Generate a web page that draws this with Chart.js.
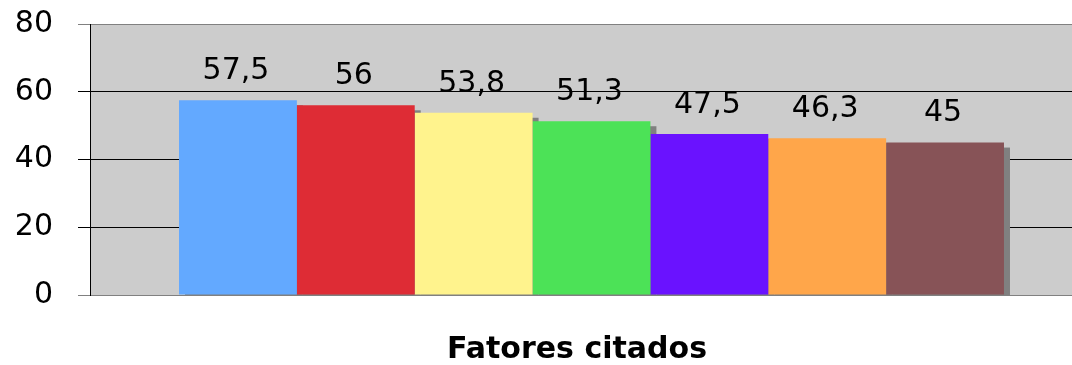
<!DOCTYPE html>
<html>
<head>
<meta charset="utf-8">
<script src="https://cdn.jsdelivr.net/npm/chart.js@4"></script>
<style>
  html, body { margin: 0; padding: 0; background: #fff; overflow: hidden; }
  #wrap { width: 1150px; height: 365px; }
</style>
</head>
<body>
<div id="wrap"><canvas id="barChart" width="1150" height="365"></canvas></div>
<script>
// dados
const chartTitle = 'Fatores citados';
const categories = ['Fatores citados'];
const seriesNames = ['F1', 'F2', 'F3', 'F4', 'F5', 'F6', 'F7'];
const seriesValues = [57.5, 56, 53.8, 51.3, 47.5, 46.3, 45];
const seriesColors = ['#63a9ff', '#de2c35', '#fff38d', '#4ce257', '#6a12ff', '#ffa64a', '#875357'];
const yTicks = [0, 20, 40, 60, 80];

const FONT = 'DejaVu Sans, Verdana, sans-serif';

// fundo cinza da área do gráfico + sombras das barras
const plotBg = {
    id: 'plotBg',
    beforeDatasetsDraw(chart) {
        const { ctx, chartArea: a } = chart;
        ctx.save();
        ctx.beginPath();
        ctx.rect(a.left, a.top, a.right - a.left, a.bottom - a.top);
        ctx.clip();
        ctx.fillStyle = '#808080';
        chart.data.datasets.forEach((ds, i) => {
            const bar = chart.getDatasetMeta(i).data[0];
            if (!bar) return;
            const w = bar.width;
            ctx.fillRect(bar.x - w / 2 + 6, bar.y + 5, w, bar.base - bar.y);
        });
        ctx.restore();
    },
    beforeDraw(chart) {
        const { ctx, chartArea: a } = chart;
        ctx.save();
        ctx.fillStyle = '#cccccc';
        ctx.fillRect(a.left, a.top, a.right - a.left, a.bottom - a.top);
        ctx.restore();
    }
};

// rótulos de valores acima das barras + título do eixo
const valueLabels = {
    id: 'valueLabels',
    afterDatasetsDraw(chart) {
        const ctx = chart.ctx;
        ctx.save();
        ctx.font = '30px ' + FONT;
        ctx.fillStyle = '#000';
        ctx.textAlign = 'center';
        ctx.textBaseline = 'middle';
        chart.data.datasets.forEach((ds, i) => {
            const bar = chart.getDatasetMeta(i).data[0];
            if (!bar) return;
            const txt = String(ds.data[0]).replace('.', ',');
            ctx.fillText(txt, bar.x - 2, bar.y - 29);
        });
        ctx.restore();
    },
    afterDraw(chart) {
        const ctx = chart.ctx;
        ctx.save();
        ctx.font = 'bold 30px ' + FONT;
        ctx.fillStyle = '#000';
        ctx.textAlign = 'center';
        ctx.textBaseline = 'middle';
        ctx.fillText(chartTitle, chart.width / 2 + 2, chart.chartArea.bottom + 55);
        ctx.restore();
    }
};

const lineColor = (v) => (v === 80 || v === 0) ? '#808080' : '#000000';

new Chart(document.getElementById('barChart'), {
    type: 'bar',
    data: {
        labels: categories,
        datasets: seriesNames.map((n, i) => ({
            label: n,
            data: [seriesValues[i]],
            backgroundColor: seriesColors[i],
            borderWidth: 0,
            barPercentage: 1,
            categoryPercentage: 0.8225
        }))
    },
    options: {
        responsive: false,
        animation: false,
        layout: { padding: { left: 15, right: 57, top: 24, bottom: 70 } },
        scales: {
            x: {
                grid: { display: false, drawTicks: false },
                border: { display: true, color: '#808080', width: 1 },
                ticks: { display: false }
            },
            y: {
                min: 0,
                max: 80,
                afterBuildTicks(axis) { axis.ticks = yTicks.map(v => ({ value: v })); },
                afterFit(axis) {
                    axis.width = 75;
                    axis.paddingTop = 0;
                    axis.paddingBottom = 0;
                },
                grid: {
                    color: (c) => lineColor(c.tick && c.tick.value),
                    tickColor: (c) => lineColor(c.tick && c.tick.value),
                    tickLength: 12,
                    lineWidth: 1
                },
                border: { display: true, color: '#000000', width: 1 },
                ticks: {
                    color: '#000',
                    padding: 25,
                    font: { family: FONT, size: 30 }
                }
            }
        },
        plugins: {
            legend: { display: false },
            tooltip: { enabled: false },
            title: { display: false }
        }
    },
    plugins: [plotBg, valueLabels]
});
</script>
</body>
</html>
